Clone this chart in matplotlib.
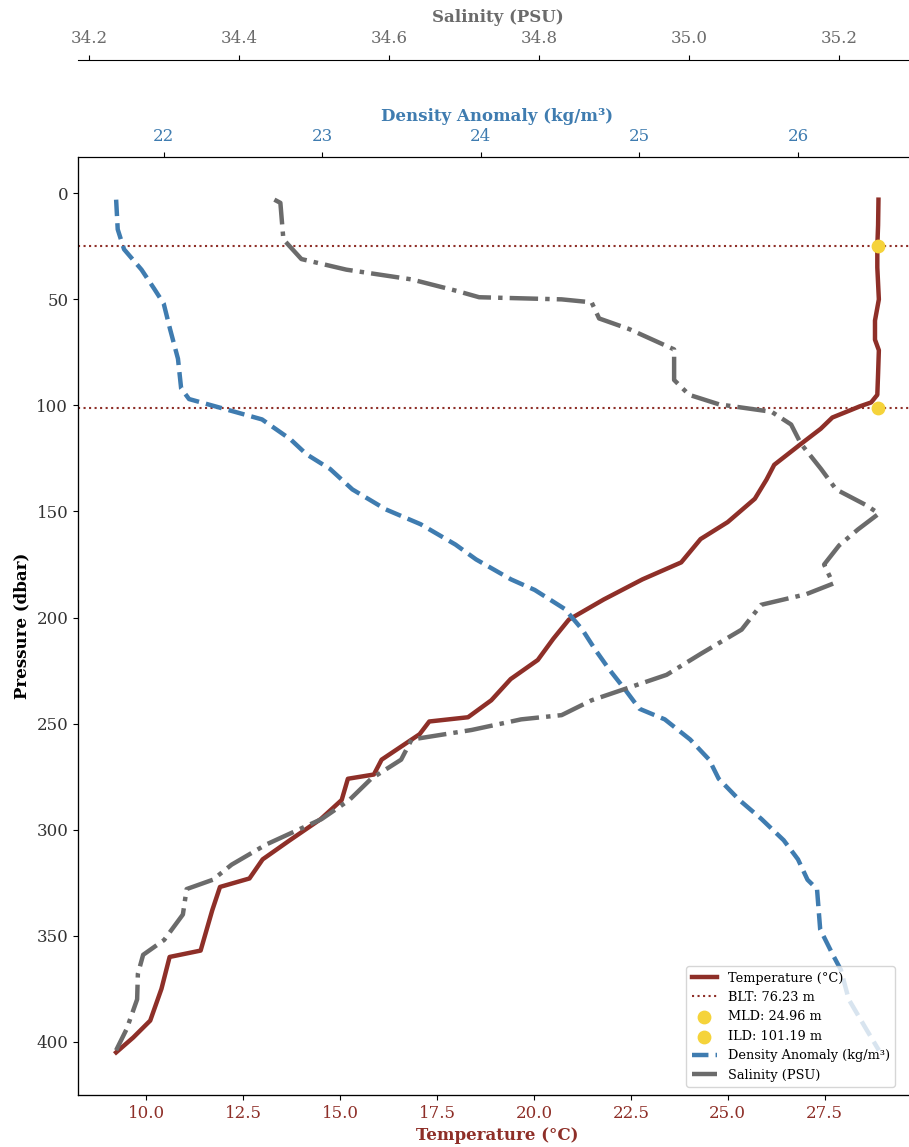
import matplotlib.pyplot as plt
import numpy as np

plt.rcParams['font.family'] = ['DejaVu Serif']

# temperature profile (dbar, degC)
temp_pres = [3, 15, 25, 35, 50, 60, 69, 74, 85, 95, 98.6, 100.5, 102, 105.7, 111, 118,
             128, 135, 144, 155, 163, 174, 182, 191.5, 201, 210, 220, 229, 239, 247,
             249, 255, 267, 274, 276, 286, 295, 305, 314, 323, 327, 338, 357, 360,
             375, 390, 398, 405]
temp_vals = [28.89, 28.88, 28.86, 28.86, 28.9, 28.8, 28.8, 28.9, 28.88, 28.86, 28.7,
             28.4, 28.2, 27.7, 27.4, 26.9, 26.2, 26.0, 25.7, 25.0, 24.3, 23.8, 22.8,
             21.8, 20.9, 20.5, 20.1, 19.4, 18.9, 18.3, 17.3, 17.05, 16.07, 15.87, 15.2,
             15.04, 14.5, 13.7, 13.0, 12.66, 11.9, 11.7, 11.4, 10.6, 10.39, 10.1, 9.66,
             9.22]

# density anomaly profile (kg/m3)
dens_pres = [3, 17, 26.4, 36, 45, 52, 64, 78, 92, 97, 102, 106.6, 116, 123, 130, 139.6,
             149, 156, 165.6, 172.6, 182, 187, 196, 205.7, 215, 224.5, 234, 243, 248,
             257.5, 267, 276, 286, 295, 305, 314, 323.6, 328, 347, 359, 366, 380, 394,
             404]
dens_vals = [21.70, 21.71, 21.75, 21.86, 21.94, 22.0, 22.04, 22.09, 22.11, 22.16, 22.40,
             22.62, 22.80, 22.90, 23.05, 23.19, 23.40, 23.62, 23.84, 23.97, 24.19, 24.34,
             24.53, 24.64, 24.72, 24.81, 24.91, 25.0, 25.16, 25.32, 25.44, 25.5, 25.63,
             25.77, 25.91, 26.0, 26.06, 26.12, 26.14, 26.22, 26.27, 26.32, 26.43, 26.51]

# salinity profile (PSU)
sal_pres = [3, 4.5, 21.7, 31, 36, 40.6, 46, 49, 50, 51.4, 59, 64, 73.6, 88, 95, 99.5,
            103, 109, 118, 130, 139.6, 147, 151, 158.5, 166, 175, 184, 189, 194, 205.7,
            217, 227, 239, 246, 248, 253, 257.5, 267, 276, 286, 295, 307, 316.5, 323.6,
            328, 340, 352, 359, 368, 380, 394, 404]
sal_vals = [34.447, 34.455, 34.459, 34.483, 34.543, 34.63, 34.69, 34.72, 34.83, 34.87,
            34.88, 34.92, 34.98, 34.98, 35.0, 35.04, 35.11, 35.136, 35.149, 35.176,
            35.196, 35.236, 35.253, 35.225, 35.20, 35.18, 35.192, 35.156, 35.096, 35.07,
            35.016, 34.97, 34.87, 34.83, 34.776, 34.71, 34.63, 34.616, 34.576, 34.547,
            34.51, 34.436, 34.39, 34.365, 34.33, 34.325, 34.30, 34.272, 34.265, 34.264,
            34.25, 34.236]

mld = 24.96
ild = 101.19
blt = 76.23
marker_temp = 28.88

TEMP_C = '#8E2F28'
DENS_C = '#3F7CB0'
SAL_C = '#6B6B6B'
DOT_C = '#F5D33A'

fig = plt.figure(figsize=(9.09, 11.47), dpi=100)
# the frame runs a little past the right edge of the picture
ax = fig.add_axes([0.0858, 0.0453, 0.923, 0.8178])

ln_t, = ax.plot(temp_vals, temp_pres, color=TEMP_C, lw=3.2, label='Temperature (°C)')
ln_blt = ax.axhline(mld, color=TEMP_C, ls=':', lw=1.5, label=f'BLT: {blt:.2f} m')
ax.axhline(ild, color=TEMP_C, ls=':', lw=1.5)
sc_m = ax.scatter([marker_temp], [mld], color=DOT_C, s=80, zorder=5,
                  label=f'MLD: {mld:.2f} m')
sc_i = ax.scatter([marker_temp], [ild], color=DOT_C, s=80, zorder=5,
                  label=f'ILD: {ild:.2f} m')
ax.invert_yaxis()
ax.set_ylabel('Pressure (dbar)', fontsize=12, fontweight='bold')
ax.set_xlabel('Temperature (°C)', fontsize=12, fontweight='bold', color=TEMP_C)
ax.tick_params(axis='x', labelcolor=TEMP_C, labelsize=12)
ax.tick_params(axis='y', labelsize=12, labelcolor='#333333')

ax2 = ax.twiny()
ln_d, = ax2.plot(dens_vals, dens_pres, color=DENS_C, lw=3.2, ls='--',
                 label='Density Anomaly (kg/m³)')
ax2.set_xlabel('Density Anomaly (kg/m³)', fontsize=12, fontweight='bold', color=DENS_C,
               labelpad=5)
ax2.tick_params(axis='x', labelcolor=DENS_C, labelsize=12, pad=5.5)

ax3 = ax.twiny()
ln_s, = ax3.plot(sal_vals, sal_pres, color=SAL_C, lw=3.2, ls='-.', label='Salinity (PSU)')
ax3.spines['top'].set_position(('outward', 70))
ax3.set_xlabel('Salinity (PSU)', fontsize=12, fontweight='bold', color=SAL_C, labelpad=6)
ax3.tick_params(axis='x', labelcolor=SAL_C, labelsize=12, pad=5.5)

handles = [ln_t, ln_blt, sc_m, sc_i, ln_d, ln_s]
ax3.legend(handles, [h.get_label() for h in handles], loc='lower right', fontsize=9.3,
           bbox_to_anchor=(895 / 909, 1 - 1087 / 1147), bbox_transform=fig.transFigure,
           borderaxespad=0)

fig.savefig('out.png', dpi=100)
